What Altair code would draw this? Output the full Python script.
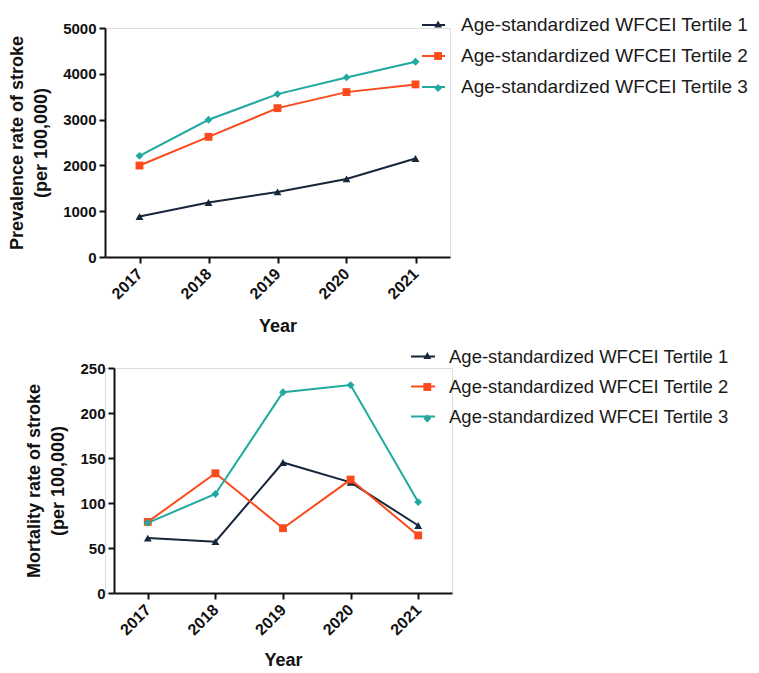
import altair as alt
import pandas as pd

years = [2017, 2018, 2019, 2020, 2021]
series = [
    "Age-standardized WFCEI Tertile 1",
    "Age-standardized WFCEI Tertile 2",
    "Age-standardized WFCEI Tertile 3",
]
markers = ["m1", "m2", "m3"]
prev_t1 = [885, 1190, 1420, 1705, 2150]
prev_t2 = [1997, 2624, 3250, 3600, 3768]
prev_t3 = [2208, 2996, 3557, 3921, 4264]
mort_t1 = [61, 57, 145, 123, 75]
mort_t2 = [79, 133, 72, 126, 64]
mort_t3 = [78, 110, 223, 231, 101]

colors = ["#17263a", "#fb4a1b", "#21a8a0"]
shapes = ["triangle-up", "square", "diamond"]


def long_df(vals):
    rows = []
    for s, m, v in zip(series, markers, vals):
        for y, val in zip(years, v):
            rows.append({"year": y, "value": val, "series": s, "marker": m})
    return pd.DataFrame(rows)


prev_df = long_df([prev_t1, prev_t2, prev_t3])
mort_df = long_df([mort_t1, mort_t2, mort_t3])

FONT = "Liberation Sans"
PT_SIZE = 62


def panel(df, ymax, ystep, ytitle, w, h, xoff, lx, ly, lfs, lrow, lsym, loff, xtp):
    xscale = alt.Scale(domain=[2016.5, 2021.5], range=[xoff, w], nice=False, zero=False)
    yscale = alt.Scale(domain=[0, ymax], nice=False)
    xaxis = alt.Axis(
        values=years, format="d", title="Year", labelAngle=-45, labelAlign="right",
        labelBaseline="middle", labelFont=FONT, labelFontSize=16, labelFontWeight="bold",
        labelColor="#111", labelPadding=8, titleFont=FONT, titleFontSize=18,
        titleFontWeight="bold", titleColor="#111", titlePadding=xtp, tickSize=6,
        tickWidth=2, tickColor="#111", domainColor="#111", domainWidth=2, grid=False,
    )
    yaxis = alt.Axis(
        values=list(range(0, ymax + 1, ystep)), format="d", title=ytitle, labelFont=FONT,
        labelFontSize=15, labelFontWeight="bold", labelColor="#111", labelPadding=3,
        titleFont=FONT, titleFontSize=18, titleFontWeight="bold", titleColor="#111",
        titleLineHeight=24, titlePadding=12, tickSize=6, tickWidth=2, tickColor="#111",
        domainColor="#111", domainWidth=2, grid=False, offset=-xoff,
    )
    line_legend = alt.Legend(
        title=None, orient="none", legendX=lx, legendY=ly, padding=0,
        labelFont=FONT, labelFontSize=lfs, labelColor="#1a1a1a", labelLimit=500,
        symbolType="stroke", symbolSize=lsym * lsym, symbolStrokeWidth=2,
        rowPadding=lrow, labelOffset=loff,
    )
    pt_legend = alt.Legend(
        title=None, orient="none", legendX=lx + lsym / 2 - PT_SIZE ** 0.5 / 2,
        legendY=ly + (lsym - lfs) / 2, padding=0,
        labelFont=FONT, labelFontSize=lfs, labelOpacity=0, labelExpr="''",
        labelLimit=500, symbolSize=PT_SIZE, symbolOpacity=1, symbolStrokeWidth=0,
        rowPadding=lrow + (lsym - lfs), labelOffset=loff,
    )
    base = alt.Chart(df).encode(
        x=alt.X("year:Q", scale=xscale, axis=xaxis),
        y=alt.Y("value:Q", scale=yscale, axis=yaxis),
    )
    lines = base.mark_line(strokeWidth=2).encode(
        color=alt.Color("series:N", scale=alt.Scale(domain=series, range=colors),
                        legend=line_legend)
    )
    pts = base.mark_point(filled=True, opacity=1, strokeWidth=0, size=PT_SIZE).encode(
        fill=alt.Fill("marker:N", scale=alt.Scale(domain=markers, range=colors),
                      legend=pt_legend),
        shape=alt.Shape("marker:N", scale=alt.Scale(domain=markers, range=shapes),
                        legend=pt_legend),
    )
    return alt.layer(lines, pts).properties(width=w, height=h)


top = panel(prev_df, 5000, 1000, ["Prevalence rate of stroke", "(per 100,000)"],
            345, 229, 0, 316, -15.5, 19, 8, 23, 15, 16)
bottom = panel(mort_df, 250, 50, ["Mortality rate of stroke", "(per 100,000)"],
               347, 225, 9, 305, -24.5, 18.5, 7, 24, 13, 14)

chart = (
    alt.vconcat(top, bottom, spacing=6)
    .resolve_scale(color="independent", fill="independent", shape="independent",
                   x="independent", y="independent")
    .resolve_legend(color="independent", fill="independent", shape="independent")
    .properties(padding={"top": 4, "left": 0, "right": 0, "bottom": 0})
    .configure_view(strokeWidth=0)
    .configure(background="white")
)

chart.save("out.html", embed_options={"renderer": "svg", "actions": False})
